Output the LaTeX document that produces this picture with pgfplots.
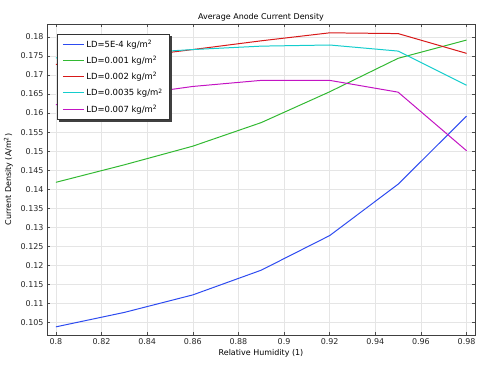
\documentclass[border=0pt]{standalone}
\usepackage{fontspec}
\setmainfont{DejaVu Sans}
\usepackage{pgfplots}
\pgfplotsset{compat=1.18}
\definecolor{cblue}{RGB}{45,75,240}
\definecolor{cgreen}{RGB}{50,185,50}
\definecolor{cred}{RGB}{215,25,25}
\definecolor{ccyan}{RGB}{20,205,205}
\definecolor{cmag}{RGB}{195,20,195}
\begin{document}
\begin{tikzpicture}
\begin{axis}[
  at={(0,0)}, anchor=south west,
  scale only axis, width=428bp, height=311bp,
  xmin=0.7961, xmax=0.9837, ymin=0.10166, ymax=0.18342,
  xtick={0.8,0.82,...,0.981}, ytick={0.105,0.11,...,0.1801},
  /pgf/number format/assume math mode=true,
  xticklabel style={/pgf/number format/.cd,fixed,precision=2},
  yticklabel style={/pgf/number format/.cd,fixed,precision=3},
  scaled ticks=false,
  tick label style={font=\fontsize{8}{9}\selectfont, black!85},
  label style={font=\fontsize{8}{9}\selectfont},
  title style={font=\fontsize{8}{9}\selectfont, yshift=-7bp},
  title={Average Anode Current Density},
  xlabel={Relative Humidity (1)},
  ylabel={Current Density (A/m\textsuperscript{2})},
  xlabel style={yshift=2bp},
  ylabel style={yshift=1bp},
  grid=major, major grid style={black!10, line width=0.5pt},
  tick align=inside, major tick length=3bp, ticks=both,
  axis line style={black!75, line width=0.9pt},
  tick style={black!70, line width=0.5pt},
  legend cell align=left,
  legend style={at={(0,1)}, anchor=north west, xshift=10bp, yshift=-10bp,
    name=leg,
    draw=black!80, line width=0.7pt, fill=white,
    font=\fontsize{8.5}{9.5}\selectfont, row sep=3.5bp, inner xsep=5bp, inner ysep=3.7bp,
    /tikz/every even column/.append style={column sep=5bp}},
  legend image code/.code={\draw[#1, line width=1pt] (0bp,0bp) -- (21bp,0bp);},
  every axis plot/.append style={line width=1pt, mark=none},
]
\addplot[cblue] coordinates {(0.80,0.1038) (0.83,0.1076) (0.86,0.1122) (0.89,0.1187) (0.92,0.1278) (0.95,0.1413) (0.98,0.1592)};
\addlegendentry{LD=5E-4 kg/m\textsuperscript{2}}
\addplot[cgreen] coordinates {(0.80,0.1418) (0.83,0.1464) (0.86,0.1513) (0.89,0.1575) (0.92,0.1656) (0.95,0.1744) (0.98,0.1792)};
\addlegendentry{LD=0.001 kg/m\textsuperscript{2}}
\addplot[cred] coordinates {(0.80,0.1728) (0.83,0.1745) (0.86,0.1767) (0.89,0.1790) (0.92,0.1811) (0.95,0.1809) (0.98,0.1757)};
\addlegendentry{LD=0.002 kg/m\textsuperscript{2}}
\addplot[ccyan] coordinates {(0.80,0.1745) (0.83,0.1756) (0.86,0.1767) (0.89,0.1776) (0.92,0.1779) (0.95,0.1763) (0.98,0.1673)};
\addlegendentry{LD=0.0035 kg/m\textsuperscript{2}}
\addplot[cmag] coordinates {(0.80,0.1622) (0.83,0.1645) (0.86,0.1670) (0.89,0.1686) (0.92,0.1686) (0.95,0.1655) (0.98,0.1501)};
\addlegendentry{LD=0.007 kg/m\textsuperscript{2}}
\end{axis}
\fill[black!75] ([xshift=1.8bp,yshift=-0.35bp]leg.south west) rectangle ([xshift=1.8bp,yshift=-2.2bp]leg.south east);
\fill[black!75] ([xshift=0.35bp,yshift=-1.8bp]leg.north east) rectangle ([xshift=2.2bp,yshift=-2.2bp]leg.south east);
\pgfresetboundingbox
\path (-47bp,-43bp) rectangle (451bp,335bp);
\end{tikzpicture}
\end{document}
